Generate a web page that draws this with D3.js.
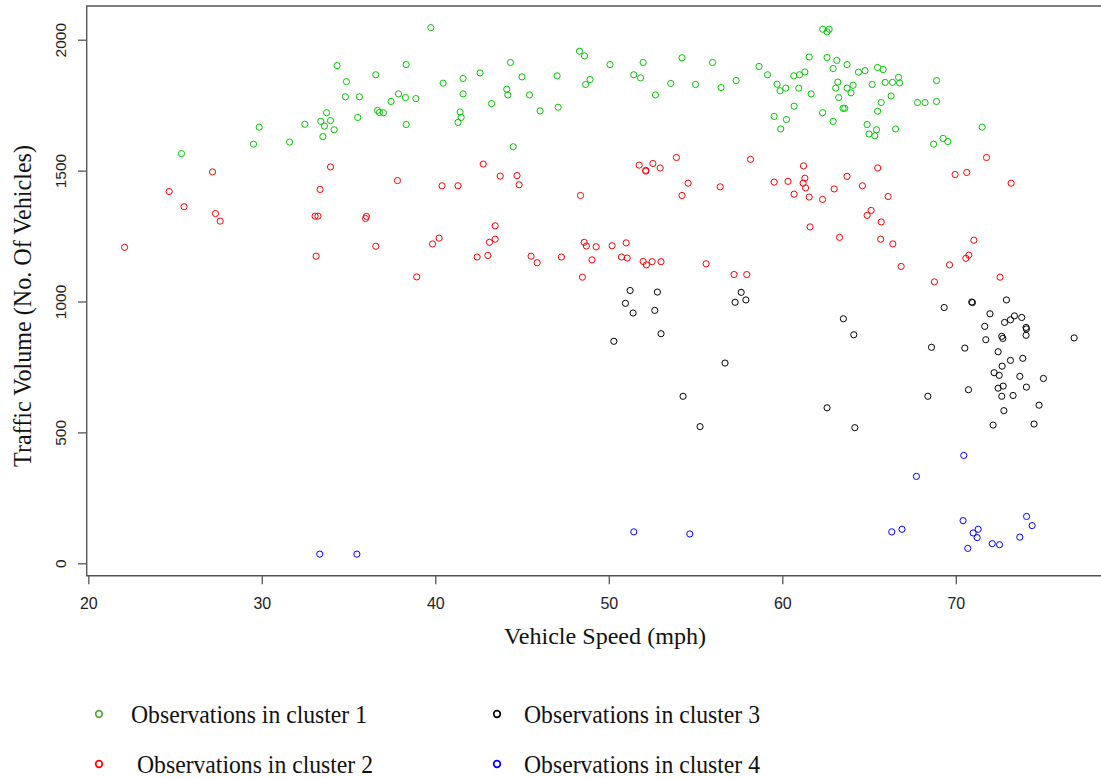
<!DOCTYPE html>
<html>
<head>
<meta charset="utf-8">
<script src="https://d3js.org/d3.v7.min.js"></script>
<style>
  body { margin: 0; background: #fff; }
  svg { display: block; }
</style>
</head>
<body>
<svg id="vis"></svg>

<script>
// ---- data ----
var xTicks = [20, 30, 40, 50, 60, 70];
var yTicks = [0, 500, 1000, 1500, 2000];

var clusterNames = ["Observations in cluster 1", "Observations in cluster 2",
                    "Observations in cluster 3", "Observations in cluster 4"];

// cluster 1 (green)
var c1Speed = [25.37,29.52,29.85,31.60,32.48,33.40,33.61,33.52,33.73,33.96,34.17,34.34,34.88,34.82,35.63,35.53,
  39.74,36.57,38.32,40.45,41.60,41.60,37.45,37.88,38.28,38.88,36.67,36.78,37.01,38.32,41.43,41.49,41.31,42.58,
  44.33,43.24,44.12,44.18,45.00,45.43,46.04,47.02,47.08,44.49,48.31,48.60,50.07,48.66,48.92,51.44,51.83,51.98,
  52.69,53.57,54.22,55.00,55.98,56.47,
  57.34,58.66,59.15,59.70,59.87,60.20,60.66,60.99,61.30,61.55,60.95,61.66,60.68,59.53,60.24,59.91,62.33,62.58,
  62.70,62.58,63.14,63.73,62.93,63.20,63.08,63.25,63.73,64.08,63.96,62.32,62.93,63.50,63.60,64.39,64.77,65.49,
  65.81,65.18,65.93,66.35,66.70,66.76,66.27,65.70,65.49,64.89,65.00,65.43,65.33,66.53,67.79,68.23,68.89,68.89,
  68.72,69.27,69.54,71.52];
var c1Volume = [1565,1601,1666,1609,1677,1688,1670,1630,1721,1691,1656,1901,1840,1782,1782,1703,
  2046,1866,1905,1834,1852,1793,1764,1793,1779,1775,1730,1722,1721,1676,1724,1703,1684,1873,
  1913,1756,1811,1789,1858,1789,1728,1862,1742,1591,1956,1938,1905,1829,1848,1866,1854,1913,
  1789,1833,1931,1829,1913,1817,
  1844,1898,1866,1830,1805,1815,1862,1866,1877,1934,1815,1793,1746,1707,1695,1659,2040,2030,
  2040,1932,1921,1905,1890,1838,1815,1779,1815,1826,1797,1721,1688,1738,1738,1876,1882,1894,
  1886,1829,1837,1837,1856,1835,1785,1760,1727,1676,1640,1656,1633,1659,1760,1760,1844,1764,
  1601,1623,1611,1666];

// cluster 2 (red)
var c2Speed = [22.09,24.66,25.52,27.16,27.33,27.60,33.07,33.24,33.13,33.36,33.96,35.98,36.03,36.57,37.82,38.93,
  39.84,40.22,40.39,41.31,42.76,42.41,43.03,43.12,43.45,43.45,43.74,44.71,44.83,45.52,45.87,47.27,48.37,48.48,
  48.58,48.71,49.03,49.27,50.19,50.73,51.06,51.00,51.98,52.17,52.50,53.01,51.75,52.13,52.13,52.54,52.96,53.90,
  54.57,54.22,55.61,56.42,58.17,57.22,57.95,59.53,60.33,60.68,61.22,61.30,61.20,61.34,61.55,62.32,62.99,63.73,
  64.62,65.50,66.10,61.60,63.30,64.89,65.12,65.70,65.67,66.37,66.85,68.77,69.64,69.96,70.63,71.77,73.19,71.04,
  70.58,70.75,72.55];
var c2Volume = [1207,1420,1362,1495,1336,1307,1326,1326,1173,1428,1514,1317,1325,1211,1462,1094,
  1220,1242,1442,1442,1525,1170,1176,1226,1238,1289,1479,1481,1446,1173,1148,1170,1405,1093,
  1226,1212,1159,1209,1213,1170,1166,1224,1153,1140,1152,1152,1521,1498,1501,1527,1510,1550,
  1452,1405,1144,1438,1543,1103,1103,1456,1459,1410,1518,1471,1452,1434,1399,1390,1430,1478,
  1442,1510,1401,1285,1245,1329,1348,1304,1238,1220,1134,1075,1140,1485,1493,1550,1452,1234,
  1165,1177,1093];

// cluster 3 (black)
var c3Speed = [51.23,52.80,50.96,51.40,52.65,53.01,50.29,56.70,54.28,55.26,57.63,57.28,57.90,63.52,64.12,62.58,
  64.18,69.33,70.92,70.96,72.92,68.60,70.52,68.39,70.73,71.97,71.67,71.73,72.81,73.15,73.38,73.80,74.05,74.07,
  74.05,72.65,72.71,72.44,73.15,73.86,72.67,72.21,72.50,73.69,75.05,72.44,72.73,72.65,73.30,74.07,74.80,72.77,
  72.15,74.51,76.82];
var c3Volume = [1042,1036,993,956,966,877,848,765,638,522,1035,997,1006,934,873,594,
  518,977,998,996,1006,825,822,638,663,953,905,854,920,930,945,939,901,895,
  871,867,859,808,775,783,753,728,718,714,706,669,677,638,641,673,604,583,
  528,532,861];

// cluster 4 (blue)
var c4Speed = [33.34,35.48,51.44,54.67,70.46,67.73,66.31,66.90,70.42,71.00,71.29,71.23,70.69,72.10,72.52,73.69,74.08,74.40];
var c4Volume = [35,35,120,112,412,332,120,130,163,116,130,98,57,75,71,100,179,144];

var pointColors = ["#00c800", "#ff0000", "#000000", "#0000ff"];
var legendColors = ["#55a83a", "#ff0000", "#000000", "#0000ff"];

// ---- canvas ----
var width = 1101, height = 778;
var svg = d3.select("#vis").attr("width", width).attr("height", height);

var plotLeft = 86.7, plotTop = 6, plotBottom = 575.7;

var x = d3.scaleLinear().domain([20, 70]).range([88.3, 955.8]);
var y = d3.scaleLinear().domain([0, 2000]).range([563.3, 39.7]);

var axisColor = "#555";
var tickFont = "'Liberation Sans', Arial, sans-serif";
var titleFont = "'Liberation Serif', 'Times New Roman', serif";

// frame (right side is cut off by the picture edge)
svg.append("path")
  .attr("d", "M" + width + "," + plotTop + "H" + plotLeft + "V" + plotBottom + "H" + width)
  .attr("fill", "none")
  .attr("stroke", axisColor)
  .attr("stroke-width", 1.4);

// y axis
var gy = svg.append("g")
  .attr("transform", "translate(" + plotLeft + ",0)")
  .call(d3.axisLeft(y).tickValues(yTicks).tickFormat(d3.format("d")).tickSize(8.7).tickSizeOuter(0));
gy.select(".domain").remove();
gy.selectAll("line").attr("stroke", axisColor).attr("stroke-width", 1.3);
gy.selectAll("text")
  .attr("x", null).attr("dy", null)
  .attr("transform", "translate(-20.7,0) rotate(-90)")
  .attr("text-anchor", "middle")
  .attr("fill", "#222")
  .style("font-family", tickFont)
  .style("font-size", "15.5px");

// x axis
var gx = svg.append("g")
  .attr("transform", "translate(0," + plotBottom + ")")
  .call(d3.axisBottom(x).tickValues(xTicks).tickFormat(d3.format("d")).tickSize(8.6).tickSizeOuter(0));
gx.select(".domain").remove();
gx.selectAll("line").attr("stroke", axisColor).attr("stroke-width", 1.3);
gx.selectAll("text")
  .attr("y", 33.3).attr("dy", null)
  .attr("fill", "#222")
  .style("font-family", tickFont)
  .style("font-size", "16px");

// axis titles
svg.append("text")
  .attr("x", 605).attr("y", 644)
  .attr("text-anchor", "middle")
  .attr("textLength", 202).attr("lengthAdjust", "spacingAndGlyphs")
  .style("font-family", titleFont)
  .style("font-size", "24px")
  .attr("fill", "#111")
  .text("Vehicle Speed (mph)");

svg.append("text")
  .attr("transform", "translate(31,306) rotate(-90)")
  .attr("text-anchor", "middle")
  .attr("textLength", 322).attr("lengthAdjust", "spacingAndGlyphs")
  .style("font-family", titleFont)
  .style("font-size", "26px")
  .attr("fill", "#111")
  .text("Traffic Volume (No. Of Vehicles)");

// points
var clusters = [
  d3.zip(c1Speed, c1Volume),
  d3.zip(c2Speed, c2Volume),
  d3.zip(c3Speed, c3Volume),
  d3.zip(c4Speed, c4Volume)
];

clusters.forEach(function(pts, i) {
  svg.append("g")
    .selectAll("circle")
    .data(pts)
    .join("circle")
    .attr("cx", function(d) { return x(d[0]); })
    .attr("cy", function(d) { return y(d[1]); })
    .attr("r", 3.1)
    .attr("fill", "none")
    .attr("stroke", pointColors[i])
    .attr("stroke-width", 1);
});

// legend
var legendItems = [
  { mx: 99, tx: 131, y: 714, base: 723 },
  { mx: 99, tx: 137, y: 764, base: 772.5 },
  { mx: 497, tx: 524, y: 714, base: 723 },
  { mx: 497, tx: 524, y: 764, base: 772.5 }
];

var lg = svg.append("g");
legendItems.forEach(function(it, i) {
  lg.append("circle")
    .attr("cx", it.mx).attr("cy", it.y).attr("r", 3.3)
    .attr("fill", "none")
    .attr("stroke", legendColors[i])
    .attr("stroke-width", 1.7);
  lg.append("text")
    .attr("x", it.tx).attr("y", it.base)
    .attr("textLength", 236).attr("lengthAdjust", "spacingAndGlyphs")
    .style("font-family", titleFont)
    .style("font-size", "25px")
    .attr("fill", "#111")
    .text(clusterNames[i]);
});
</script>
</body>
</html>
